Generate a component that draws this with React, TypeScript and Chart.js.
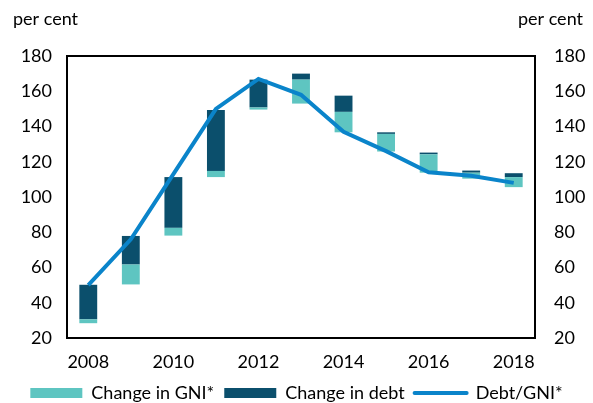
import { useEffect, useRef } from "react";
import { Chart, registerables } from "chart.js";

Chart.register(...registerables);

const years = ["2008", "2009", "2010", "2011", "2012", "2013", "2014", "2015", "2016", "2017", "2018"];
const gniLow = [28.4, 50.4, 78.1, 111.3, 149.6, 153.0, 136.7, 125.8, 113.8, 110.4, 105.6];
const gniHigh = [30.6, 61.7, 82.5, 114.8, 150.8, 166.6, 148.3, 135.8, 124.2, 113.8, 111.3];
const debtLow = [30.6, 61.7, 82.5, 114.8, 150.8, 166.6, 148.3, 135.8, 124.2, 113.8, 111.3];
const debtHigh = [50.2, 77.9, 111.3, 149.3, 166.6, 170.0, 157.5, 136.7, 125.2, 115.0, 113.5];
const debtToGni = [50.0, 76.0, 113.0, 150.0, 167.0, 158.0, 137.0, 126.0, 114.0, 112.0, 108.0];
const yMin = 20;
const yMax = 180;
const yStep = 20;

const LIGHT = "#5EC5C1";
const DARK = "#0B4F6C";
const LINE = "#0A84CA";
const FONT = "Lato";
const FS = 18;

export default function App() {
  const ref = useRef<HTMLCanvasElement>(null);
  useEffect(() => {
    document.body.style.margin = "0";
    const frame = {
      id: "frame",
      afterDatasetsDraw(chart: any) {
        const { ctx, chartArea } = chart;
        ctx.save();
        ctx.strokeStyle = "#000";
        ctx.lineWidth = 2;
        ctx.strokeRect(chartArea.left, chartArea.top, chartArea.right - chartArea.left, chartArea.bottom - chartArea.top);
        ctx.fillStyle = "#000";
        ctx.font = `${FS}px ${FONT}`;
        ctx.textBaseline = "alphabetic";
        ctx.textAlign = "left";
        ctx.fillText("per cent", 13, 25);
        ctx.textAlign = "right";
        ctx.fillText("per cent", 583, 25);
        ctx.restore();
      },
    };
    const chart = new Chart(ref.current!, {
      type: "bar",
      data: {
        labels: years,
        datasets: [
          {
            type: "bar",
            label: "Change in GNI*",
            data: years.map((_, i) => [gniLow[i], gniHigh[i]]) as any,
            backgroundColor: LIGHT,
            borderWidth: 0,
            order: 1,
            categoryPercentage: 1,
            barPercentage: 0.42,
          },
          {
            type: "bar",
            label: "Change in debt",
            data: years.map((_, i) => [debtLow[i], debtHigh[i]]) as any,
            backgroundColor: DARK,
            borderWidth: 0,
            order: 1,
            categoryPercentage: 1,
            barPercentage: 0.42,
          },
          {
            type: "line",
            label: "Debt/GNI*",
            data: debtToGni,
            borderColor: LINE,
            backgroundColor: LINE,
            borderWidth: 4,
            pointRadius: 0,
            tension: 0,
            order: 0,
            yAxisID: "y",
          } as any,
        ],
      },
      options: {
        responsive: false,
        animation: false,
        layout: { padding: { top: 56, bottom: -9, left: 0, right: 0 } },
        plugins: {
          tooltip: { enabled: false },
          legend: {
            position: "bottom",
            labels: {
              usePointStyle: true,
              pointStyleWidth: 52,
              boxHeight: 10,
              padding: 10,
              color: "#000",
              font: { family: FONT, size: FS },
              sort: (a: any, b: any) => a.datasetIndex - b.datasetIndex,
              generateLabels: (c: any) => {
                const items = (Chart.defaults.plugins.legend.labels as any).generateLabels(c);
                return items.map((it: any) => {
                  const ds = c.data.datasets[it.datasetIndex];
                  if (ds.type === "line") {
                    it.pointStyle = "line";
                    it.lineWidth = 4;
                    it.strokeStyle = LINE;
                    it.fillStyle = LINE;
                    it.lineCap = "round";
                  } else {
                    it.pointStyle = "rect";
                    it.lineWidth = 0;
                    it.fillStyle = ds.backgroundColor;
                    it.strokeStyle = ds.backgroundColor;
                  }
                  return it;
                });
              },
            },
          },
        },
        scales: {
          x: {
            stacked: true,
            offset: true,
            grid: { display: false, drawTicks: false },
            border: { display: false },
            ticks: {
              autoSkip: false,
              maxRotation: 0,
              padding: 13,
              color: "#000",
              font: { family: FONT, size: FS },
              callback: (_v: any, i: number) => (i % 2 === 0 ? years[i] : ""),
            },
            afterFit: (s: any) => {
              s.height = 36;
            },
          },
          y: {
            position: "left",
            stacked: false,
            min: yMin,
            max: yMax,
            grid: { display: false, drawTicks: false },
            border: { display: false },
            ticks: { stepSize: yStep, padding: 15, color: "#000", font: { family: FONT, size: FS } },
            afterFit: (s: any) => {
              s.width = 67;
            },
          },
          y1: {
            position: "right",
            min: yMin,
            max: yMax,
            grid: { display: false, drawTicks: false },
            border: { display: false },
            ticks: { stepSize: yStep, padding: 19, color: "#000", font: { family: FONT, size: FS } },
            afterFit: (s: any) => {
              s.width = 58;
            },
          },
        },
      },
      plugins: [frame],
    });
    return () => chart.destroy();
  }, []);
  return (
    <div style={{ width: 593, height: 403 }}>
      <canvas ref={ref} width={593} height={403} style={{ display: "block" }} />
    </div>
  );
}
